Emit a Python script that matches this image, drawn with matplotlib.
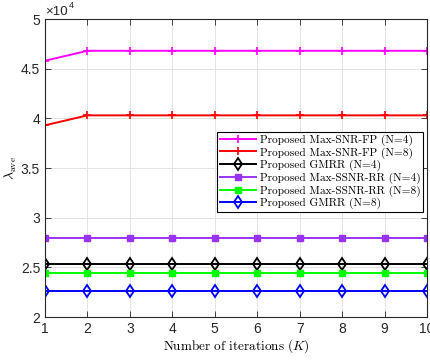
"""
Convergence of lambda_ave versus the number of iterations.
"""

import matplotlib

matplotlib.use("Agg")
import matplotlib.pyplot as plt
from matplotlib.ticker import FuncFormatter, MultipleLocator

plt.rcParams["mathtext.fontset"] = "cm"
plt.rcParams["font.family"] = ["Liberation Sans", "DejaVu Sans"]

# Data
iterations = [1, 2, 3, 4, 5, 6, 7, 8, 9, 10]
snr_fp_n4 = [45800, 46800, 46800, 46800, 46800, 46800, 46800, 46800, 46800, 46800]
snr_fp_n8 = [39300, 40300, 40300, 40300, 40300, 40300, 40300, 40300, 40300, 40300]
gmrr_n4 = [25300] * 10
ssnr_rr_n4 = [28000] * 10
ssnr_rr_n8 = [24400] * 10
gmrr_n8 = [22600] * 10

series = [
    ("Proposed Max-SNR-FP (N=4)", snr_fp_n4, (1, 0, 1), "+", dict(ms=6, mew=1.2)),
    ("Proposed Max-SNR-FP (N=8)", snr_fp_n8, (1, 0, 0), "+", dict(ms=6, mew=1.2)),
    ("Proposed GMRR (N=4)", gmrr_n4, (0, 0, 0), "d",
     dict(ms=6, mew=1.3, mfc="none")),
    ("Proposed Max-SSNR-RR (N=4)", ssnr_rr_n4, (0.6, 0.2, 0.95), "s", dict(ms=4)),
    ("Proposed Max-SSNR-RR (N=8)", ssnr_rr_n8, (0, 1, 0), "s", dict(ms=4)),
    ("Proposed GMRR (N=8)", gmrr_n8, (0, 0, 1), "d",
     dict(ms=6, mew=1.3, mfc="none")),
]

fig = plt.figure(figsize=(4.31, 3.6), dpi=100)
ax = fig.add_axes([0.1044, 0.1194, 0.8863, 0.8278])

for label, values, color, marker, style in series:
    ax.plot(iterations, values, color=color, marker=marker, lw=1.4,
            label=label, **style)

ax.set_xlim(1, 10)
ax.set_ylim(20000, 50000)
ax.xaxis.set_major_locator(MultipleLocator(1))
ax.yaxis.set_major_locator(MultipleLocator(5000))
ax.yaxis.set_major_formatter(FuncFormatter(lambda v, _: f"{v / 1e4:g}"))

ax.grid(True, color="#e3e3e3", lw=0.7)
ax.set_axisbelow(True)
ax.tick_params(direction="in", top=True, right=True, labelsize=10,
               length=4, width=0.6, colors="#262626", labelcolor="#262626")
for spine in ax.spines.values():
    spine.set_linewidth(0.8)
    spine.set_color("#262626")

# Matlab-style exponent label above the y axis
ax.text(0.0, 1.004, "\u00d710", transform=ax.transAxes,
        fontsize=9.5, color="#262626", va="bottom", ha="left")
ax.text(0.062, 1.03, "4", transform=ax.transAxes,
        fontsize=6.5, color="#262626", va="bottom", ha="left")

ax.set_xlabel(r"Number of iterations ($K$)", family="cmr10", fontsize=9.5,
              labelpad=1)
ax.set_ylabel(r"$\lambda_{\rm ave}$", fontsize=10, labelpad=1)

leg = ax.legend(loc="upper right", bbox_to_anchor=(0.99, 0.622),
                prop={"family": "cmr10", "size": 8.2}, frameon=True,
                fancybox=False, edgecolor="black", framealpha=1,
                handlelength=3.2, labelspacing=0.12, borderpad=0.25,
                handletextpad=0.3, borderaxespad=0)
leg.get_frame().set_linewidth(0.8)

fig.savefig("out.png", dpi=100)
